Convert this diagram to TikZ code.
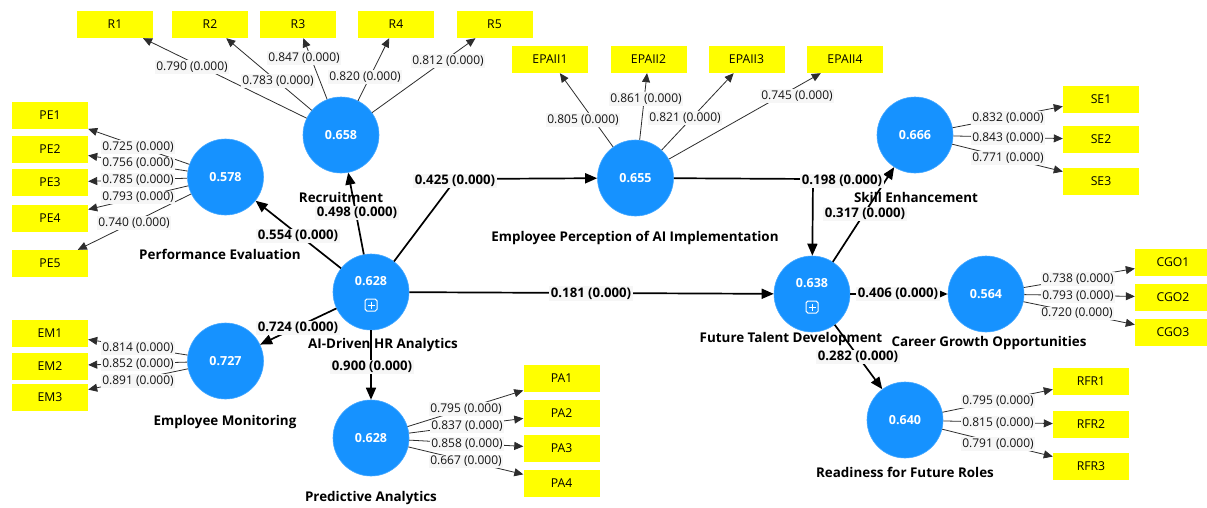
\documentclass[tikz,border=0pt]{standalone}
\usepackage{fontspec}
\setmainfont{Open Sans}
\usetikzlibrary{arrows.meta,calc}
\definecolor{lvblue}{RGB}{22,146,255}
\definecolor{indy}{RGB}{255,255,0}
\definecolor{lblbg}{RGB}{246,246,246}
\definecolor{mline}{RGB}{45,45,45}
\begin{document}
\begin{tikzpicture}[x=1pt,y=-1pt,
  lv/.style={circle,fill=lvblue,draw=lvblue!80!white,line width=0.6pt,minimum size=76pt,inner sep=0pt,text=white,font=\fontsize{12.5}{14}\selectfont\bfseries},
  lvt/.style={text=white,font=\fontsize{12.5}{14}\selectfont\bfseries,inner sep=0pt},
  ind/.style={rectangle,fill=indy,minimum width=76pt,minimum height=27pt,inner sep=0pt,text=black,font=\fontsize{12.2}{14}\selectfont},
  ml/.style={fill=lblbg,inner sep=1.3pt,text=black!92,font=\fontsize{12}{13}\selectfont},
  sl/.style={fill=lblbg,inner sep=1.5pt,text=black,font=\fontsize{13.2}{15}\selectfont\bfseries},
  cname/.style={inner sep=0pt,text=black,font=\fontsize{13.4}{15}\selectfont\bfseries},
  ma/.style={draw=mline,line width=0.8pt,-{Triangle[length=9pt,width=8pt]}},
  sa/.style={draw=black,line width=1.7pt,-{Triangle[length=12pt,width=10pt]}}
]
\fill[white] (0,0) rectangle (1207,507);
\clip (0,0) rectangle (1207,507);

% indicators
\node[ind] (R1) at (115,24.5) {R1};
\node[ind] (R2) at (210,24.5) {R2};
\node[ind] (R3) at (298,24.5) {R3};
\node[ind] (R4) at (396,24.5) {R4};
\node[ind] (R5) at (494.5,24.5) {R5};
\node[ind] (EP1) at (550,59.5) {EPAII1};
\node[ind] (EP2) at (648.5,59.5) {EPAII2};
\node[ind] (EP3) at (746.5,59.5) {EPAII3};
\node[ind] (EP4) at (845,59.5) {EPAII4};
\node[ind] (SE1) at (1101,99) {SE1};
\node[ind] (SE2) at (1101,139.5) {SE2};
\node[ind] (SE3) at (1101,181) {SE3};
\node[ind] (CG1) at (1173,262) {CGO1};
\node[ind] (CG2) at (1173,297) {CGO2};
\node[ind] (CG3) at (1173,332.5) {CGO3};
\node[ind] (RF1) at (1091,381.5) {RFR1};
\node[ind] (RF2) at (1091,424.5) {RFR2};
\node[ind] (RF3) at (1091,466) {RFR3};
\node[ind] (PE1) at (50,115.5) {PE1};
\node[ind] (PE2) at (50,149.5) {PE2};
\node[ind] (PE3) at (50,182.5) {PE3};
\node[ind] (PE4) at (50,218.5) {PE4};
\node[ind] (PE5) at (50,263.5) {PE5};
\node[ind] (EM1) at (50,333.5) {EM1};
\node[ind] (EM2) at (50,366) {EM2};
\node[ind] (EM3) at (50,397.5) {EM3};
\node[ind] (PA1) at (561.5,378.5) {PA1};
\node[ind] (PA2) at (561.5,413.5) {PA2};
\node[ind] (PA3) at (561.5,448.5) {PA3};
\node[ind] (PA4) at (561.5,483.5) {PA4};

% latent variables
\node[lv] (REC) at (341,135) {0.658};
\node[lv] (PEV) at (225.5,177) {0.578};
\node[lv,label={[lvt,yshift=11pt]center:0.628}] (AIH) at (371,292) {};
\node[lv] (EMO) at (225.5,361) {0.727};
\node[lv] (PAN) at (371,438) {0.628};
\node[lv] (EPA) at (635.5,178) {0.655};
\node[lv,label={[lvt,yshift=11pt]center:0.638}] (FTD) at (812,294) {};
\node[lv] (SEN) at (915,135) {0.666};
\node[lv] (CGO) at (986,294) {0.564};
\node[lv] (RFR) at (905,420) {0.640};

\foreach \n in {AIH,FTD}{
  \begin{scope}[shift={(\n.center)}]
    \draw[white,line width=1pt,rounded corners=1.8pt] (-6,7) rectangle (6,19);
    \draw[white,line width=1pt] (-3.5,13) -- (3.5,13) (0,9.5) -- (0,16.5);
  \end{scope}
}

\coordinate (bA) at (456,179);
\coordinate (bB) at (813,179);

% measurement connectors
\foreach \a/\b in {REC/R1,REC/R2,REC/R3,REC/R4,REC/R5,
  PEV/PE1,PEV/PE2,PEV/PE3,PEV/PE4,PEV/PE5,
  EMO/EM1,EMO/EM2,EMO/EM3,
  PAN/PA1,PAN/PA2,PAN/PA3,PAN/PA4,
  EPA/EP1,EPA/EP2,EPA/EP3,EPA/EP4,
  SEN/SE1,SEN/SE2,SEN/SE3,
  CGO/CG1,CGO/CG2,CGO/CG3,
  RFR/RF1,RFR/RF2,RFR/RF3}{
  \draw[ma] (\a) -- (\b);
}

% structural connectors
\draw[sa] (AIH) -- (REC);
\draw[sa] (AIH) -- (PEV);
\draw[sa] (AIH) -- (bA) -- (EPA);
\draw[sa] (AIH) -- (FTD);
\draw[sa] (AIH) -- (EMO);
\draw[sa] (AIH) -- (PAN);
\draw[sa] (EPA) -- (bB) -- (FTD);
\draw[sa] (FTD) -- (SEN);
\draw[sa] (FTD) -- (CGO);
\draw[sa] (FTD) -- (RFR);

% measurement labels
\node[ml] (lR1) at (192,67) {0.790 (0.000)};
\node[ml] (lR2) at (278,81) {0.783 (0.000)};
\node[ml] (lR3) at (304,58) {0.847 (0.000)};
\node[ml] (lR4) at (365,77) {0.820 (0.000)};
\node[ml] (lR5) at (448,61) {0.812 (0.000)};
\node[ml] (lPE1) at (138,147) {0.725 (0.000)};
\node[ml] (lPE2) at (138,163.5) {0.756 (0.000)};
\node[ml] (lPE3) at (138,180) {0.785 (0.000)};
\node[ml] (lPE4) at (138,197.5) {0.793 (0.000)};
\node[ml] (lPE5) at (134,223) {0.740 (0.000)};
\node[ml] (lEM1) at (138,348) {0.814 (0.000)};
\node[ml] (lEM2) at (138,364.5) {0.852 (0.000)};
\node[ml] (lEM3) at (138,381) {0.891 (0.000)};
\node[ml] (lPA1) at (466,409) {0.795 (0.000)};
\node[ml] (lPA2) at (467,426.5) {0.837 (0.000)};
\node[ml] (lPA3) at (467,444) {0.858 (0.000)};
\node[ml] (lPA4) at (466,461.5) {0.667 (0.000)};
\node[ml] (lEP1) at (583,120) {0.805 (0.000)};
\node[ml] (lEP2) at (646,99) {0.861 (0.000)};
\node[ml] (lEP3) at (685,118) {0.821 (0.000)};
\node[ml] (lEP4) at (797,96) {0.745 (0.000)};
\node[ml] (lSE1) at (1008,118) {0.832 (0.000)};
\node[ml] (lSE2) at (1008,138) {0.843 (0.000)};
\node[ml] (lSE3) at (1008,158) {0.771 (0.000)};
\node[ml] (lCG1) at (1078,279) {0.738 (0.000)};
\node[ml] (lCG2) at (1078,296) {0.793 (0.000)};
\node[ml] (lCG3) at (1077,313.5) {0.720 (0.000)};
\node[ml] (lRF1) at (998,401) {0.795 (0.000)};
\node[ml] (lRF2) at (998,423) {0.815 (0.000)};
\node[ml] (lRF3) at (998,444) {0.791 (0.000)};

% structural labels
\node[sl] (sREC) at (357,213) {0.498 (0.000)};
\node[sl] (sPEV) at (298,236) {0.554 (0.000)};
\node[sl] (sEPA) at (455,181) {0.425 (0.000)};
\node[sl] (sFTDa) at (591,293.5) {0.181 (0.000)};
\node[sl] (sEMO) at (298,328) {0.724 (0.000)};
\node[sl] (sPAN) at (372,367) {0.900 (0.000)};
\node[sl] (sEPF) at (842,181) {0.198 (0.000)};
\node[sl] (sSEN) at (865,214) {0.317 (0.000)};
\node[sl] (sCGO) at (898,294) {0.406 (0.000)};
\node[sl] (sRFR) at (858,357) {0.282 (0.000)};

% construct names
\node[cname] (nREC) at (341,197) {Recruitment};
\node[cname] (nPEV) at (220,254) {Performance Evaluation};
\node[cname] (nAIH) at (383,345) {AI-Driven HR Analytics};
\node[cname] (nEMO) at (225,422) {Employee Monitoring};
\node[cname] (nPAN) at (371,498) {Predictive Analytics};
\node[cname] (nEPA) at (635,238) {Employee Perception of AI Implementation};
\node[cname] (nSEN) at (916,197) {Skill Enhancement};
\node[cname] (nFTD) at (791,339) {Future Talent Development};
\node[cname] (nCGO) at (989,343) {Career Growth Opportunities};
\node[cname] (nRFR) at (905,472) {Readiness for Future Roles};
\end{tikzpicture}
\end{document}
